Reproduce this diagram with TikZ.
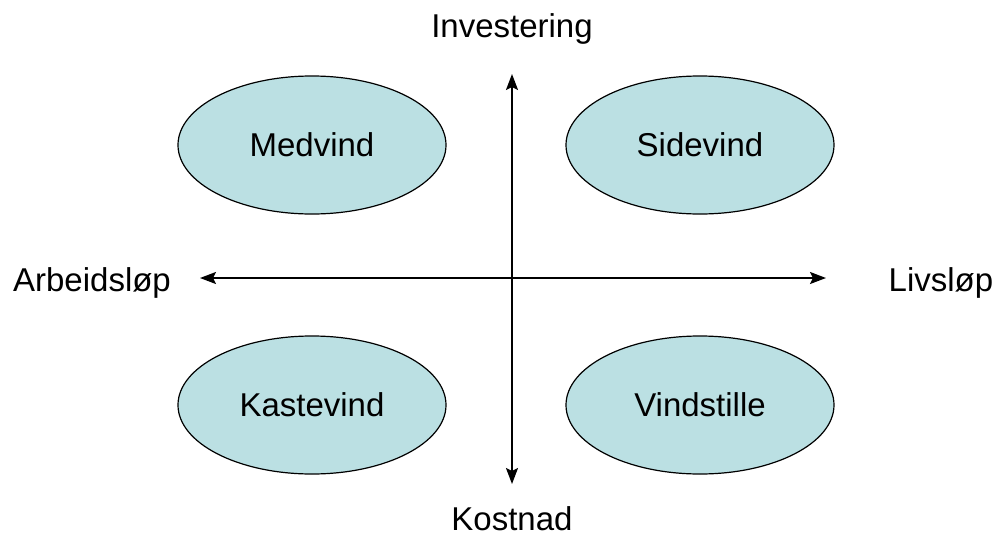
\documentclass[tikz,border=0pt]{standalone}
\usepackage{fontspec}
\setmainfont{Liberation Sans}
\usetikzlibrary{shapes.geometric,arrows.meta}
\definecolor{ellfill}{HTML}{BBE0E3}
\begin{document}
\begin{tikzpicture}[x=1pt,y=-1pt,
  quad/.style={ellipse,draw=black,line width=1.2pt,fill=ellfill,minimum width=268pt,minimum height=138pt,inner sep=0pt,font=\fontsize{33}{36}\selectfont},
  lbl/.style={font=\fontsize{33}{36}\selectfont,inner sep=0pt,anchor=base},
  axis/.style={line width=2pt,{Stealth[length=16pt,width=12pt,inset=3pt]}-{Stealth[length=16pt,width=12pt,inset=3pt]}}]
\useasboundingbox (0,0) rectangle (997,536);
\coordinate (top) at (512,74);
\coordinate (bot) at (512,484);
\coordinate (left) at (200,278);
\coordinate (right) at (826,278);
\draw[axis] (bot) -- (top);
\draw[axis] (left) -- (right);
\node[quad] (med) at (312,145) {Medvind};
\node[quad] (side) at (700,145) {Sidevind};
\node[quad] (kast) at (312,405) {Kastevind};
\node[quad] (vind) at (700,405) {Vindstille};
\node[lbl] (inv) at (512,37) {Investering};
\node[lbl] (kost) at (512,530) {Kostnad};
\node[lbl] (arb) at (92,291) {Arbeidsløp};
\node[lbl] (liv) at (941,291) {Livsløp};
\end{tikzpicture}
\end{document}
